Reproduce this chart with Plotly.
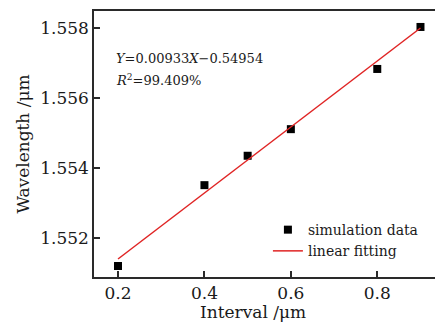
import plotly.graph_objects as go

interval = [0.2, 0.4, 0.5, 0.6, 0.8, 0.9]
wavelength = [1.5512, 1.55351, 1.55435, 1.55511, 1.55683, 1.55803]
fit_x = [0.2, 0.9]
fit_y = [1.5514, 1.5580]
x_ticks = [0.2, 0.4, 0.6, 0.8]
y_ticks = [1.552, 1.554, 1.556, 1.558]

FONT = "DejaVu Serif"
AX = "#2a2a2a"

fig = go.Figure()
fig.add_trace(go.Scatter(x=interval, y=wavelength, mode="markers", name="simulation data",
                         marker=dict(symbol="square", size=8, color="black")))
fig.add_trace(go.Scatter(x=fit_x, y=fit_y, mode="lines", name="linear fitting",
                         line=dict(color="#e02424", width=1.5)))

axis_common = dict(showgrid=False, zeroline=False, showline=True, linecolor=AX, linewidth=1.5,
                   ticks="inside", ticklen=6, tickwidth=1.5, tickcolor=AX,
                   tickfont=dict(family=FONT, size=17, color="#1a1a1a"))
fig.update_xaxes(range=[0.1444, 0.9336], tickvals=x_ticks, ticktext=[f"{v:.1f}" for v in x_ticks],
                 mirror=True, **axis_common)
fig.update_yaxes(range=[1.550886, 1.558486], tickvals=y_ticks, ticktext=[f"{v:.3f}" for v in y_ticks],
                 mirror=False,
                 title=dict(text="Wavelength /μm", font=dict(family=FONT, size=17, color="#1a1a1a"), standoff=6),
                 **axis_common)

fig.add_annotation(xref="paper", yref="paper", x=0.466, y=-0.132, xanchor="center", yanchor="middle",
                   text="Interval /μm", showarrow=False,
                   font=dict(family=FONT, size=17, color="#1a1a1a"))
fig.add_annotation(xref="paper", yref="paper", x=0.06, y=0.82, xanchor="left", yanchor="middle",
                   text="<i>Y</i>=0.00933<i>X</i>−0.54954", showarrow=False,
                   font=dict(family=FONT, size=13, color="#1a1a1a"))
fig.add_annotation(xref="paper", yref="paper", x=0.06, y=0.74, xanchor="left", yanchor="middle",
                   text="<i>R</i><sup>2</sup>=99.409%", showarrow=False,
                   font=dict(family=FONT, size=13, color="#1a1a1a"))

fig.update_layout(width=435, height=322, margin=dict(l=94, r=0, t=11, b=45),
                  plot_bgcolor="white", paper_bgcolor="white",
                  showlegend=True,
                  legend=dict(x=0.51, y=0.137, xanchor="left", yanchor="middle",
                              bgcolor="rgba(0,0,0,0)", font=dict(family=FONT, size=14, color="#1a1a1a"),
                              tracegroupgap=0, itemwidth=30))
fig.write_html("out.html")
